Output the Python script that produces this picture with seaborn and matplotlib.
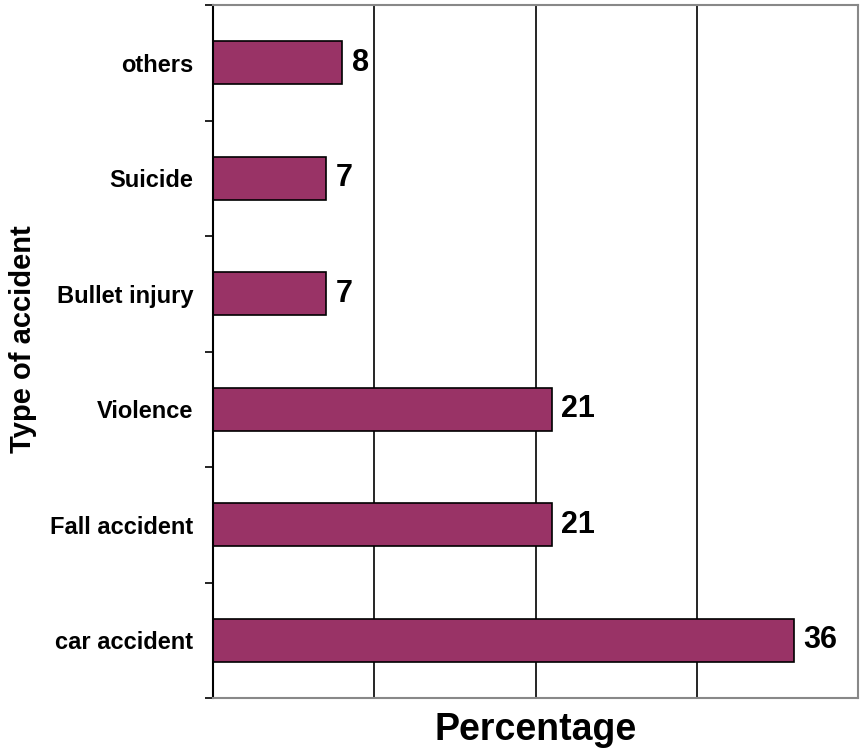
import matplotlib
matplotlib.use("Agg")
import matplotlib.pyplot as plt
import seaborn as sns
import pandas as pd

# Daten
kategorien = ["others", "Suicide", "Bullet injury", "Violence", "Fall accident", "car accident"]
prozent = [8, 7, 7, 21, 21, 36]

df = pd.DataFrame({"Typ": kategorien, "Prozent": prozent})

sns.set_style("white")
plt.rcParams["font.family"] = ["Liberation Sans", "DejaVu Sans"]
plt.rcParams["text.color"] = "black"
plt.rcParams["axes.labelcolor"] = "black"
plt.rcParams["ytick.color"] = "black"

fig = plt.figure(figsize=(8.6, 7.5), dpi=100)
ax = fig.add_axes([0.2477, 0.0693, 0.75, 0.924])

sns.barplot(x="Prozent", y="Typ", data=df, orient="h", color="#993366",
            edgecolor="black", linewidth=1.2, width=0.37, saturation=1, ax=ax)

ax.set_xlim(0, 40)
ax.set_ylim(5.5, -0.5)
ax.set_xticks([10, 20, 30])
ax.set_xticklabels([])
ax.tick_params(axis="x", length=0)
ax.xaxis.grid(True, color="black", linewidth=1.2)
ax.set_axisbelow(True)

# y-Ticks an den Kategoriegrenzen
ax.set_yticks(range(len(kategorien)))
ax.set_yticklabels(kategorien, fontsize=17, fontweight="bold", color="black")
ax.tick_params(axis="y", length=0, pad=14)
ax.set_yticks([i - 0.5 for i in range(len(kategorien) + 1)], minor=True)
ax.tick_params(axis="y", which="minor", length=6, width=1.2, color="black", left=True)

for side in ["top", "right", "bottom"]:
    ax.spines[side].set_color("#888888")
    ax.spines[side].set_linewidth(1.5)
ax.spines["left"].set_color("black")
ax.spines["left"].set_linewidth(1.5)

# Werte an den Balken
for i, v in enumerate(prozent):
    ax.text(v + 0.6, i, str(v), va="center", ha="left", fontsize=22,
            fontweight="bold", color="black")

ax.set_xlabel("Percentage", fontsize=27, fontweight="bold", color="black")
ax.xaxis.set_label_coords(0.5, -0.02)
ax.set_ylabel("Type of accident", fontsize=21, fontweight="bold", color="black")
ax.yaxis.set_label_coords(-0.273, 0.518)

plt.savefig("out.png", dpi=100)
